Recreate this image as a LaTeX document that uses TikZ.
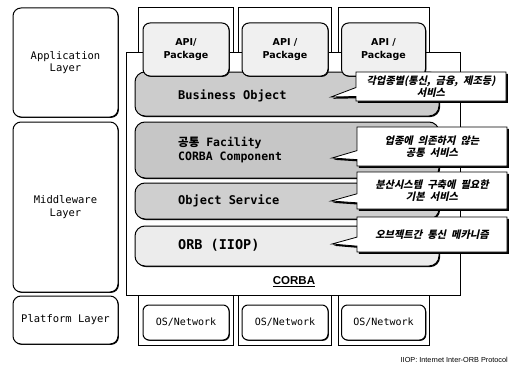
\documentclass[tikz,border=0pt]{standalone}
\usepackage{fontspec}
\setmainfont{DejaVu Sans}
\newfontfamily\monof{DejaVu Sans Mono}
\newfontfamily\korf{Noto Sans CJK KR}
\newfontfamily\korit[FakeSlant=0.22,WordSpace=2.2]{Noto Sans CJK KR}
\newfontfamily\liber{Liberation Sans}
\usetikzlibrary{shapes.callouts,shadows}
\tikzset{
  blackshadow/.style={drop shadow={shadow xshift=#1, shadow yshift=-#1, opacity=1, fill=black}},
  layerbox/.style={draw, line width=1pt, rounded corners=8pt, fill=white, blackshadow=0.9pt,
    minimum width=105pt, inner sep=0pt, align=center, font=\monof\fontsize{10.5}{12.5}\selectfont},
  colframe/.style={draw, line width=0.6pt, inner sep=0pt, minimum height=338pt},
  corbabox/.style={draw, line width=0.9pt, fill=white, inner sep=0pt, minimum width=334pt, minimum height=243pt},
  graybox/.style={draw, line width=1pt, rounded corners=10pt, blackshadow=1.1pt, minimum width=304pt, inner sep=0pt},
  apibox/.style={draw, line width=1pt, rounded corners=7pt, fill=gray!12, blackshadow=0.8pt,
    minimum width=86pt, minimum height=53pt, inner sep=0pt, align=center,
    font=\bfseries\fontsize{9.5}{13.5}\selectfont},
  osbox/.style={draw, line width=1pt, rounded corners=6pt, fill=white, blackshadow=0.8pt,
    minimum width=86pt, minimum height=35pt, inner sep=0pt, font=\monof\fontsize{10}{12}\selectfont},
  glabel/.style={anchor=west, inner sep=0pt, font=\monof\bfseries\fontsize{12}{14}\selectfont},
  callbox/.style={rectangle callout, draw, line width=0.8pt, fill=white, blackshadow=1.8pt,
    minimum width=150pt, inner sep=2pt, align=center, callout pointer width=9pt,
    font=\korit\bfseries\fontsize{10.2}{12.5}\selectfont},
}
\begin{document}
\begin{tikzpicture}[x=1pt,y=-1pt]
\useasboundingbox (0,0) rectangle (516,369);
\fill[white] (0,0) rectangle (516,369);

% left layer boxes
\node[layerbox, minimum height=109pt] (app) at (65.5,62.5) {Application\\Layer};
\node[layerbox, minimum height=170pt] (mid) at (65.5,207) {Middleware\\Layer};
\node[layerbox, minimum height=48pt] (plat) at (65.5,320) {Platform Layer};

% column frames
\node[colframe, minimum width=95pt] (col1) at (185.5,176) {};
\node[colframe, minimum width=93pt] (col2) at (284.5,176) {};
\node[colframe, minimum width=91pt] (col3) at (383.5,176) {};

% CORBA
\node[corbabox] (corba) at (293,173.5) {};
\node[inner sep=0pt, font=\liber\bfseries\fontsize{11.5}{13}\selectfont] (corbalbl) at (294,282) {\underline{CORBA}};

% gray layers
\node[graybox, fill=gray!40, minimum height=44pt] (biz) at (287,94) {};
\node[graybox, fill=gray!45, minimum height=56pt] (fac) at (287,150) {};
\node[graybox, fill=gray!38, minimum height=36pt] (obj) at (287,201) {};
\node[graybox, fill=gray!15, minimum height=40pt] (orb) at (287,246) {};

\node[glabel] (bizl) at (178,96) {Business Object};
\node[glabel, font=\monof\bfseries\fontsize{11.5}{13}\selectfont] (facl1) at (178,143) {{\korf\bfseries 공통} Facility};
\node[glabel, font=\monof\bfseries\fontsize{11.5}{13}\selectfont] (facl2) at (178,157) {CORBA Component};
\node[glabel] (objl) at (178,201) {Object Service};
\node[glabel, font=\monof\bfseries\fontsize{13.5}{15}\selectfont] (orbl) at (178,245) {ORB (IIOP)};

% API boxes
\node[apibox] (api1) at (186,49.5) {API/\\Package};
\node[apibox] (api2) at (285,49.5) {API /\\Package};
\node[apibox, minimum width=84pt] (api3) at (383.5,49.5) {API /\\Package};

% OS boxes
\node[osbox] (os1) at (186,322.5) {OS/Network};
\node[osbox] (os2) at (285,322.5) {OS/Network};
\node[osbox, minimum width=84pt] (os3) at (383.5,322.5) {OS/Network};

% callouts
\coordinate (t1) at (331,97);
\coordinate (t2) at (332,158);
\coordinate (t3) at (331,201);
\coordinate (t4) at (332,244);
\node[callbox, minimum height=29pt, callout absolute pointer=(t1)] (c1) at (431,86.5) {각업종별(통신, 금융, 제조등)\\서비스};
\node[callbox, minimum height=39pt, callout absolute pointer=(t2)] (c2) at (432,146.5) {업종에 의존하지 않는\\공통 서비스};
\node[callbox, minimum height=37pt, callout absolute pointer=(t3)] (c3) at (432,190.5) {분산시스템 구축에 필요한\\기본 서비스};
\node[callbox, minimum height=35pt, callout absolute pointer=(t4)] (c4) at (432,234.5) {오브젝트간 통신 메카니즘};

% footnote
\node[anchor=east, inner sep=0pt, font=\liber\fontsize{7.3}{8.5}\selectfont] (foot) at (508,360) {IIOP: Internet Inter-ORB Protocol};
\end{tikzpicture}
\end{document}
